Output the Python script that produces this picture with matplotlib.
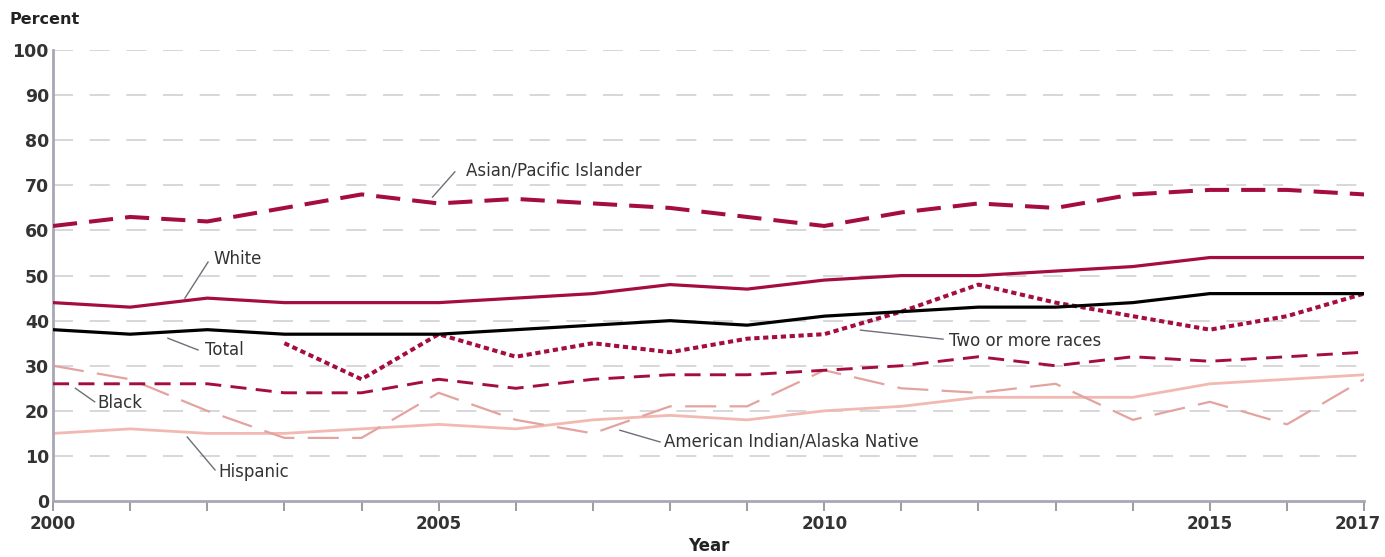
import matplotlib.pyplot as plt
from matplotlib.transforms import ScaledTranslation

years = list(range(2000, 2018))
years_two = list(range(2003, 2018))

asian = [61, 63, 62, 65, 68, 66, 67, 66, 65, 63, 61, 64, 66, 65, 68, 69, 69, 68]
white = [44, 43, 45, 44, 44, 44, 45, 46, 48, 47, 49, 50, 50, 51, 52, 54, 54, 54]
total = [38, 37, 38, 37, 37, 37, 38, 39, 40, 39, 41, 42, 43, 43, 44, 46, 46, 46]
two_more = [35, 27, 37, 32, 35, 33, 36, 37, 42, 48, 44, 41, 38, 41, 46]
black = [26, 26, 26, 24, 24, 27, 25, 27, 28, 28, 29, 30, 32, 30, 32, 31, 32, 33]
amind = [30, 27, 20, 14, 14, 24, 18, 15, 21, 21, 29, 25, 24, 26, 18, 22, 17, 27]
hispanic = [15, 16, 15, 15, 16, 17, 16, 18, 19, 18, 20, 21, 23, 23, 23, 26, 27, 28]

yticks = list(range(0, 101, 10))
xlabels = ['2000', '', '', '', '', '2005', '', '', '', '', '2010', '', '', '', '', '2015', '', '2017']

crimson = '#a50d3e'
gray_txt = '#333333'

fig = plt.figure(figsize=(13.85, 5.57), dpi=100)
ax = fig.add_axes([0.0383, 0.1005, 0.9466, 0.8095])

# gridlines
for y in yticks[1:]:
    ax.axhline(y, color='#cfcfd6', lw=1.2, dashes=(12, 10), zorder=0)

ax.plot(years, hispanic, color='#f1b9b2', lw=2.0, zorder=2)
ax.plot(years, amind, color='#e3a3a0', lw=1.6, dashes=(14, 6), zorder=2)
ax.plot(years, black, color=crimson, lw=2.1, dashes=(5.5, 3.2), zorder=3)
ax.plot(years_two, two_more, color=crimson, lw=2.9, dashes=(1.3, 0.9), zorder=3)
ax.plot(years, total, color='black', lw=2.3, zorder=3)
ax.plot(years, white, color=crimson, lw=2.3, zorder=3)
ax.plot(years, asian, color=crimson, lw=2.9, dashes=(6, 3), zorder=3)

ax.set_xlim(2000, 2017)
ax.set_ylim(0, 100)
ax.set_yticks(yticks)
ax.set_xticks(years)
ax.set_xticklabels(xlabels)

for s in ['top', 'right']:
    ax.spines[s].set_visible(False)
for s in ['left', 'bottom']:
    ax.spines[s].set_color('#a8a8b4')
    ax.spines[s].set_linewidth(2)

ax.tick_params(axis='x', direction='out', length=7, width=1.2, color='#8a8a94',
               labelsize=12, labelcolor=gray_txt, pad=3)
ax.tick_params(axis='y', length=0, labelsize=12.5, labelcolor=gray_txt, pad=3)
for t in ax.get_xticklabels() + ax.get_yticklabels():
    t.set_fontweight('semibold')
# keep the last year label inside the figure
last = ax.get_xticklabels()[-1]
last.set_transform(last.get_transform() + ScaledTranslation(-6 / 100, 0, fig.dpi_scale_trans))

fig.text(0.007, 0.965, 'Percent', fontsize=11.5, fontweight='bold', color='#222222', va='center')
ax.set_xlabel('Year', fontsize=12, fontweight='bold', color='#222222', labelpad=3)

# labels with leader lines
labels = [
    ('Asian/Pacific Islander', (2004.92, 67.4), (2005.21, 73.0), (2005.35, 73.4)),
    ('White', (2001.71, 45.0), (2002.01, 53.0), (2002.08, 53.7)),
    ('Total', (2001.49, 36.1), (2001.88, 33.5), (2001.97, 33.5)),
    ('Black', (2000.29, 25.0), (2000.54, 22.0), (2000.58, 21.8)),
    ('Hispanic', (2001.74, 14.2), (2002.10, 6.9), (2002.15, 6.4)),
    ('American Indian/Alaska Native', (2007.35, 15.7), (2007.87, 13.1), (2007.92, 13.1)),
    ('Two or more races', (2010.47, 37.9), (2011.54, 35.9), (2011.62, 35.6)),
]
for txt, p0, p1, pt in labels:
    ax.plot([p0[0], p1[0]], [p0[1], p1[1]], color='#6e6e78', lw=1.0, zorder=4)
    ax.text(pt[0], pt[1], txt, fontsize=12, color=gray_txt, va='center', ha='left', zorder=5)

fig.savefig('out.png', dpi=100)
